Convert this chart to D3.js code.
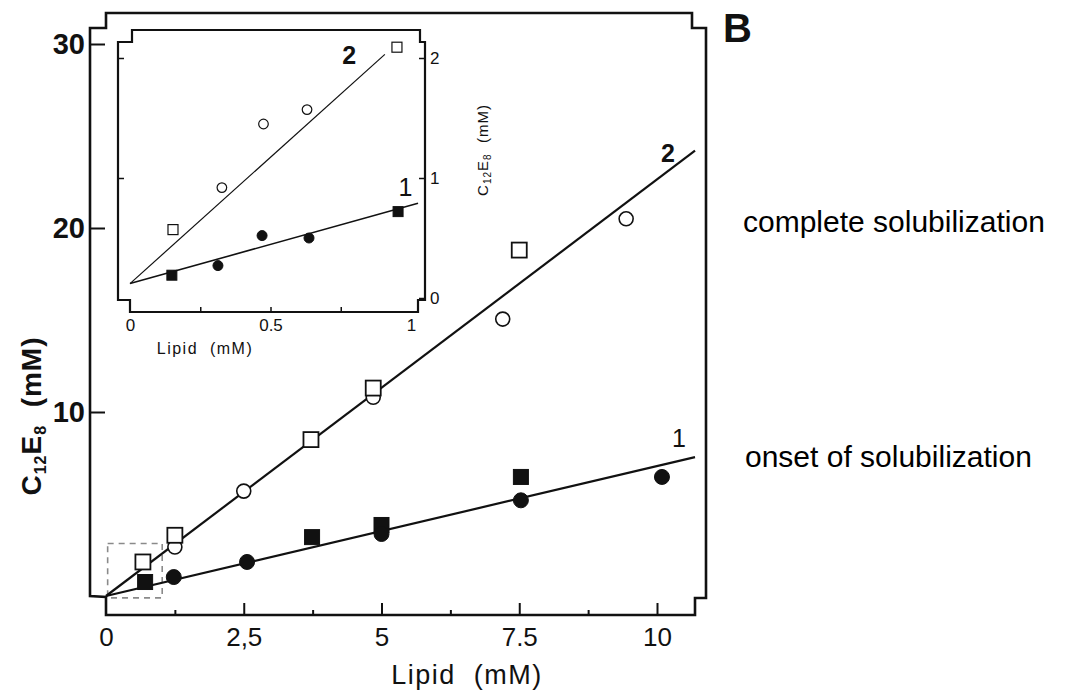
<!DOCTYPE html>
<html>
<head>
<meta charset="utf-8">
<script src="https://cdn.jsdelivr.net/npm/d3@7"></script>
<style>
  html, body { margin: 0; padding: 0; background: #fff; }
  svg { display: block; font-family: "Liberation Sans", Arial, sans-serif; }
</style>
</head>
<body>
<svg id="chart" width="1072" height="694"></svg>
<script>
// ---- main panel data (lipid mM vs C12E8 mM) ----
const completeSquareLipid  = [0.67, 1.25, 3.72, 4.85, 7.5];
const completeSquareC12E8  = [1.85, 3.3, 8.5, 11.3, 18.8];
const completeCircleLipid  = [1.25, 2.5, 4.85, 7.2, 9.44];
const completeCircleC12E8  = [2.66, 5.7, 10.8, 15.05, 20.5];
const onsetSquareLipid     = [0.71, 3.74, 5.0, 7.53];
const onsetSquareC12E8     = [0.76, 3.2, 3.86, 6.47];
const onsetCircleLipid     = [1.23, 2.56, 5.0, 7.53, 10.09];
const onsetCircleC12E8     = [1.03, 1.85, 3.37, 5.2, 6.47];
// fitted boundaries
const fitLipid   = [0, 10.69];
const fit2C12E8  = [0, 24.2];
const fit1C12E8  = [0, 7.55];

// ---- inset data (low concentration range) ----
const inCompleteSquareLipid = [0.153, 0.95];
const inCompleteSquareC12E8 = [0.57, 2.09];
const inCompleteCircleLipid = [0.327, 0.475, 0.63];
const inCompleteCircleC12E8 = [0.92, 1.45, 1.57];
const inOnsetSquareLipid    = [0.149, 0.954];
const inOnsetSquareC12E8    = [0.19, 0.72];
const inOnsetCircleLipid    = [0.313, 0.47, 0.637];
const inOnsetCircleC12E8    = [0.27, 0.52, 0.50];
const inFit2Lipid = [0, 0.907], inFit2C12E8 = [0.12, 2.03];
const inFit1Lipid = [0, 1.025], inFit1C12E8 = [0.12, 0.79];

// ---- tick labels ----
const xTicks = [0, 2.5, 5, 7.5, 10];
const xTickLabels = ["0", "2,5", "5", "7.5", "10"];
const xMinorTicks = [1.25, 3.75, 6.25, 8.75];
const yTicks = [10, 20, 30];
const inXTicks = [0, 0.5, 1];
const inXTickLabels = ["0", "0.5", "1"];
const inXMinorTicks = [0.25, 0.5, 0.75];
const inYTicks = [0, 1, 2];
const inYTickLabels = ["0", "1", "2"];

const svg = d3.select("#chart");
const ink = "#111";

const x = d3.scaleLinear().domain([0, 10]).range([106, 657]);
const y = d3.scaleLinear().domain([0, 30]).range([596, 44]);

// frame with stepped corners
const L = 90, R = 706, T = 13, B = 615, n = 15;
const frame = d3.path();
frame.moveTo(L, y(0));
frame.lineTo(L, T + n);
frame.lineTo(L + n + 1, T + n);
frame.lineTo(L + n + 1, T);
frame.lineTo(R - n + 1, T);
frame.lineTo(R - n + 1, T + n);
frame.lineTo(R, T + n);
frame.lineTo(R, y(0) + 2);
frame.lineTo(R - 11, y(0) + 2);
frame.lineTo(R - 11, B);
frame.lineTo(x(0), B);
frame.lineTo(x(0), y(0) + 1);
frame.closePath();
svg.append("path").attr("d", frame.toString())
  .attr("fill", "none").attr("stroke", ink).attr("stroke-width", 2.6)
  .attr("stroke-linejoin", "miter");

// x axis ticks (inward)
const gx = svg.append("g").attr("transform", `translate(0,${B})`)
  .call(d3.axisBottom(x).tickValues(xTicks).tickSize(-12).tickPadding(13)
    .tickFormat((d, i) => xTickLabels[i]));
gx.select(".domain").remove();
gx.selectAll(".tick line").attr("stroke", ink).attr("stroke-width", 2);
gx.selectAll(".tick text").attr("fill", ink).attr("font-size", 26)
  .attr("font-family", "Liberation Sans, Arial, sans-serif");
gx.selectAll(".tick").filter(d => d === 0).select("line").remove();

const gxm = svg.append("g").attr("transform", `translate(0,${B})`)
  .call(d3.axisBottom(x).tickValues(xMinorTicks).tickSize(-5).tickFormat(""));
gxm.select(".domain").remove();
gxm.selectAll(".tick line").attr("stroke", ink).attr("stroke-width", 2);

// y axis ticks
const gy = svg.append("g").attr("transform", `translate(${L},0)`)
  .call(d3.axisLeft(y).tickValues(yTicks).tickSize(-15).tickPadding(5));
gy.select(".domain").remove();
gy.selectAll(".tick line").attr("stroke", ink).attr("stroke-width", 2);
gy.selectAll(".tick text").attr("fill", ink).attr("font-size", 29)
  .attr("font-weight", "bold").attr("font-family", "Liberation Sans, Arial, sans-serif");

// axis titles
svg.append("text").attr("x", 467).attr("y", 684)
  .attr("text-anchor", "middle").attr("font-size", 27).attr("fill", ink)
  .attr("letter-spacing", 1.5)
  .text("Lipid\u00a0\u00a0(mM)");

const yl = svg.append("text")
  .attr("transform", "translate(41,416) rotate(-90)")
  .attr("text-anchor", "middle").attr("font-size", 28).attr("font-weight", "bold")
  .attr("fill", ink).attr("letter-spacing", 1);
yl.append("tspan").text("C");
yl.append("tspan").attr("font-size", 16).attr("dy", 5).text("12");
yl.append("tspan").attr("dy", -5).text("E");
yl.append("tspan").attr("font-size", 16).attr("dy", 5).text("8");
yl.append("tspan").attr("dy", -5).text("\u00a0\u00a0(mM)");

// dashed region enlarged in the inset
svg.append("rect")
  .attr("x", x(0.03)).attr("y", y(2.85))
  .attr("width", x(1.02) - x(0.03)).attr("height", y(-0.1) - y(2.85))
  .attr("fill", "none").attr("stroke", "#8a8a8a").attr("stroke-width", 1.6)
  .attr("stroke-dasharray", "6,5");

// fitted lines
const line = (xs, ys, sx, sy) => d3.line().x(d => sx(d[0])).y(d => sy(d[1]))(d3.zip(xs, ys));
svg.append("path").attr("d", line(fitLipid, fit2C12E8, x, y))
  .attr("stroke", ink).attr("stroke-width", 2.2).attr("fill", "none");
svg.append("path").attr("d", line(fitLipid, fit1C12E8, x, y))
  .attr("stroke", ink).attr("stroke-width", 2.2).attr("fill", "none");

// markers
function squares(g, xs, ys, sx, sy, size, filled, sw) {
  g.selectAll(null).data(d3.zip(xs, ys)).join("rect")
    .attr("x", d => sx(d[0]) - size / 2).attr("y", d => sy(d[1]) - size / 2)
    .attr("width", size).attr("height", size)
    .attr("fill", filled ? ink : "#fff").attr("stroke", ink).attr("stroke-width", sw);
}
function circles(g, xs, ys, sx, sy, r, filled, sw) {
  g.selectAll(null).data(d3.zip(xs, ys)).join("circle")
    .attr("cx", d => sx(d[0])).attr("cy", d => sy(d[1])).attr("r", r)
    .attr("fill", filled ? ink : "#fff").attr("stroke", ink).attr("stroke-width", sw);
}
const gm = svg.append("g");
circles(gm, completeCircleLipid, completeCircleC12E8, x, y, 7, false, 1.6);
squares(gm, completeSquareLipid, completeSquareC12E8, x, y, 15, false, 1.8);
squares(gm, onsetSquareLipid, onsetSquareC12E8, x, y, 15, true, 1);
circles(gm, onsetCircleLipid, onsetCircleC12E8, x, y, 7.5, true, 1);

// curve labels
svg.append("text").attr("x", x(10.4)).attr("y", y(8.1)).attr("text-anchor", "middle")
  .attr("font-size", 25).attr("fill", ink).text("1");
svg.append("text").attr("x", x(10.2)).attr("y", y(23.6)).attr("text-anchor", "middle")
  .attr("font-size", 25).attr("font-weight", "bold").attr("fill", ink).text("2");

// panel letter and annotations
svg.append("text").attr("x", 723).attr("y", 42).attr("font-size", 40)
  .attr("font-weight", "bold").attr("fill", ink).text("B");
svg.append("text").attr("x", 743).attr("y", 232).attr("font-size", 30)
  .attr("fill", "#000").text("complete solubilization");
svg.append("text").attr("x", 745).attr("y", 467).attr("font-size", 30)
  .attr("fill", "#000").text("onset of solubilization");

// ---- inset ----
const ix = d3.scaleLinear().domain([0, 1]).range([130, 411]);
const iy = d3.scaleLinear().domain([0, 2]).range([298, 58]);
const iL = 118, iR = 425, iT = 30, iB = 312, m = 12;
const inset = svg.append("g");
const ip = d3.path();
ip.moveTo(iL, iB - m);
ip.lineTo(iL, iT + m);
ip.lineTo(iL + 14, iT + m);
ip.lineTo(iL + 14, iT);
ip.lineTo(iR - 5, iT);
ip.lineTo(iR - 5, iT + m);
ip.lineTo(iR, iT + m);
ip.lineTo(iR, iB - m);
ip.lineTo(iR - 7, iB - m);
ip.lineTo(iR - 7, iB);
ip.lineTo(ix(0), iB);
ip.lineTo(ix(0), iB - m);
ip.closePath();
inset.append("path").attr("d", ip.toString())
  .attr("fill", "#fff").attr("stroke", ink).attr("stroke-width", 2.2);

// inset x ticks
const igx = inset.append("g").attr("transform", `translate(0,${iB})`)
  .call(d3.axisBottom(ix).tickValues(inXTicks).tickSize(0).tickPadding(7)
    .tickFormat((d, i) => inXTickLabels[i]));
igx.select(".domain").remove();
igx.selectAll(".tick text").attr("fill", ink).attr("font-size", 17)
  .attr("font-family", "Liberation Sans, Arial, sans-serif");
const igxm = inset.append("g").attr("transform", `translate(0,${iB})`)
  .call(d3.axisBottom(ix).tickValues(inXMinorTicks).tickSize(-5).tickFormat(""));
igxm.select(".domain").remove();
igxm.selectAll(".tick line").attr("stroke", ink).attr("stroke-width", 1.5);

// inset y ticks (right labels, ticks on both sides)
const igy = inset.append("g").attr("transform", `translate(${iR},0)`)
  .call(d3.axisRight(iy).tickValues(inYTicks).tickSize(-6).tickPadding(5)
    .tickFormat((d, i) => inYTickLabels[i]));
igy.select(".domain").remove();
igy.selectAll(".tick line").attr("stroke", ink).attr("stroke-width", 1.5);
igy.selectAll(".tick text").attr("fill", ink).attr("font-size", 17)
  .attr("font-family", "Liberation Sans, Arial, sans-serif");
const igyl = inset.append("g").attr("transform", `translate(${iL},0)`)
  .call(d3.axisLeft(iy).tickValues([1, 2]).tickSize(-6).tickFormat(""));
igyl.select(".domain").remove();
igyl.selectAll(".tick line").attr("stroke", ink).attr("stroke-width", 1.5);

// inset axis titles
inset.append("text").attr("x", 205).attr("y", 354).attr("text-anchor", "middle")
  .attr("font-size", 16).attr("letter-spacing", 1.5).attr("fill", ink)
  .text("Lipid\u00a0\u00a0(mM)");
const iyl = inset.append("text")
  .attr("transform", "translate(488,150) rotate(-90)")
  .attr("text-anchor", "middle").attr("font-size", 15).attr("letter-spacing", 1)
  .attr("fill", ink);
iyl.append("tspan").text("C");
iyl.append("tspan").attr("font-size", 10).attr("dy", 3).text("12");
iyl.append("tspan").attr("dy", -3).text("E");
iyl.append("tspan").attr("font-size", 10).attr("dy", 3).text("8");
iyl.append("tspan").attr("dy", -3).text("\u00a0\u00a0(mM)");

// inset lines and markers
inset.append("path").attr("d", line(inFit2Lipid, inFit2C12E8, ix, iy))
  .attr("stroke", ink).attr("stroke-width", 1.2).attr("fill", "none");
inset.append("path").attr("d", line(inFit1Lipid, inFit1C12E8, ix, iy))
  .attr("stroke", ink).attr("stroke-width", 1.6).attr("fill", "none");
circles(inset, inCompleteCircleLipid, inCompleteCircleC12E8, ix, iy, 4.8, false, 1.2);
squares(inset, inCompleteSquareLipid, inCompleteSquareC12E8, ix, iy, 10, false, 1.2);
squares(inset, inOnsetSquareLipid, inOnsetSquareC12E8, ix, iy, 10, true, 1);
circles(inset, inOnsetCircleLipid, inOnsetCircleC12E8, ix, iy, 5, true, 1);

inset.append("text").attr("x", ix(0.78)).attr("y", iy(1.95)).attr("text-anchor", "middle")
  .attr("font-size", 25).attr("font-weight", "bold").attr("fill", ink).text("2");
inset.append("text").attr("x", ix(0.98)).attr("y", iy(0.85)).attr("text-anchor", "middle")
  .attr("font-size", 25).attr("fill", ink).text("1");
</script>
</body>
</html>
